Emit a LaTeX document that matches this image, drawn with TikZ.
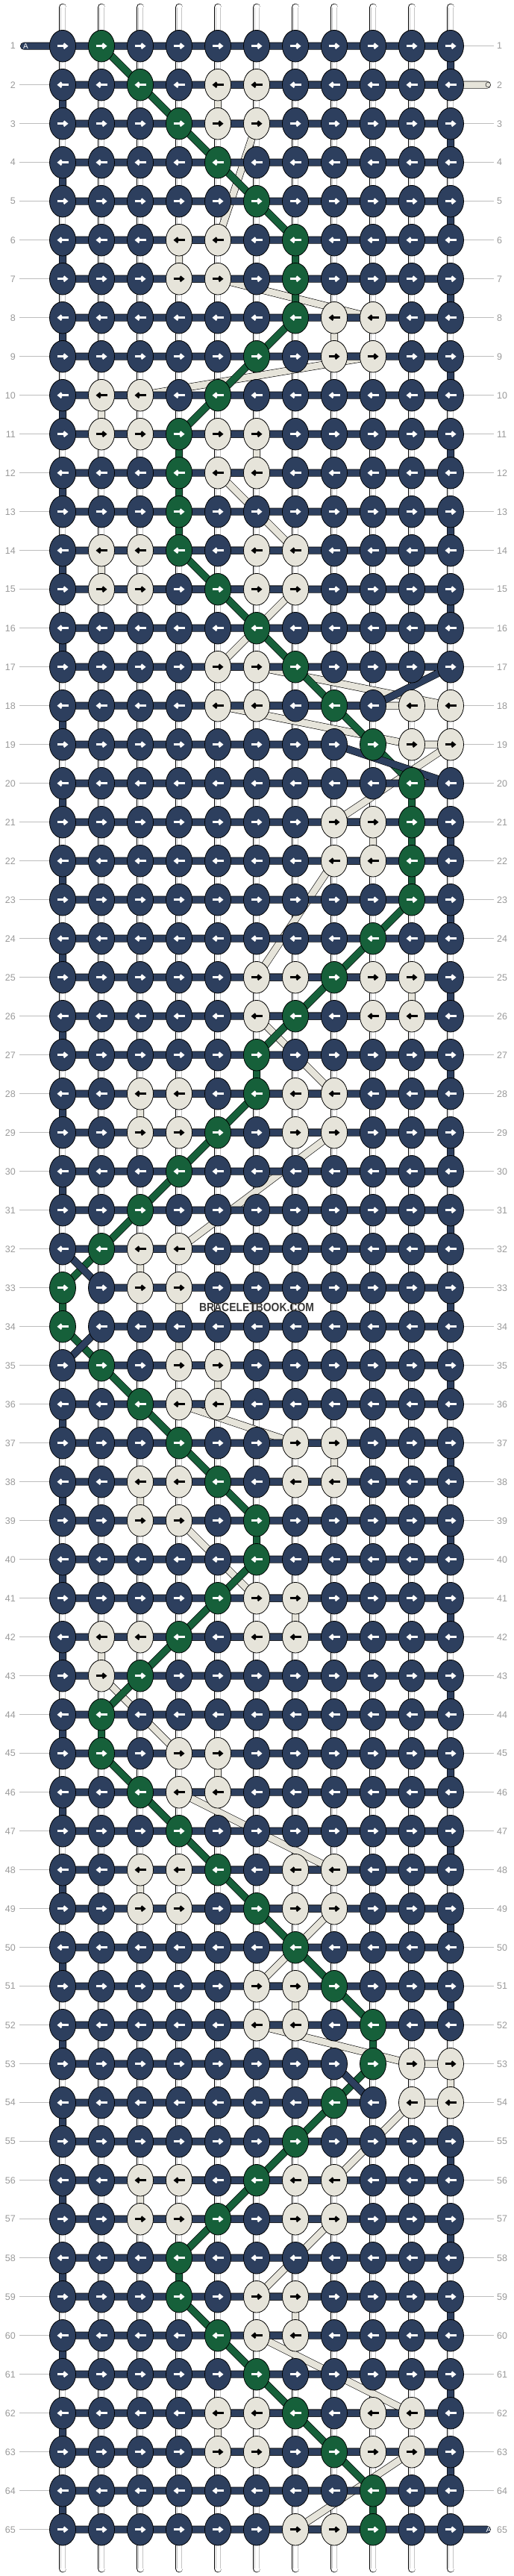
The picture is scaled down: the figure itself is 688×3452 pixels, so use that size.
\documentclass[tikz,border=0pt]{standalone}
\usepackage{fontspec}
\setmainfont{Liberation Sans}
\usetikzlibrary{arrows.meta,shapes.geometric}
\definecolor{navy}{HTML}{2D3F5E}
\definecolor{grn}{HTML}{16603A}
\definecolor{crm}{HTML}{E6E4DA}
\definecolor{lbl}{HTML}{999999}
\definecolor{guideC}{HTML}{BDBDBD}
\definecolor{wmC}{HTML}{383838}
\definecolor{innerC}{HTML}{C4C4C4}
\newcount\rcount \newcount\pcount
\def\storechar#1{\global\advance\pcount by 1 \expandafter\xdef\csname kc\the\rcount-\the\pcount\endcsname{#1}}
\def\parsechars#1{\ifx\relax#1\else\storechar{#1}\expandafter\parsechars\fi}
\def\prow#1{\global\advance\rcount by 1 \global\pcount=0 \parsechars#1\relax}
\prow{NGNNNNNNNNN}
\prow{NNGNCCNNNNN}
\prow{NNNGCCNNNNN}
\prow{NNNNGNNNNNN}
\prow{NNNNNGNNNNN}
\prow{NNNCCNGNNNN}
\prow{NNNCCNGNNNN}
\prow{NNNNNNGCCNN}
\prow{NNNNNGNCCNN}
\prow{NCCNGNNNNNN}
\prow{NCCGCCNNNNN}
\prow{NNNGCCNNNNN}
\prow{NNNGNNNNNNN}
\prow{NCCGNCCNNNN}
\prow{NCCNGCCNNNN}
\prow{NNNNNGNNNNN}
\prow{NNNNCCGNNNN}
\prow{NNNNCCNGNCC}
\prow{NNNNNNNNGCC}
\prow{NNNNNNNNNGN}
\prow{NNNNNNNCCGN}
\prow{NNNNNNNCCGN}
\prow{NNNNNNNNNGN}
\prow{NNNNNNNNGNN}
\prow{NNNNNCCGCCN}
\prow{NNNNNCGNCCN}
\prow{NNNNNGNNNNN}
\prow{NNCCNGCCNNN}
\prow{NNCCGNCCNNN}
\prow{NNNGNNNNNNN}
\prow{NNGNNNNNNNN}
\prow{NGCCNNNNNNN}
\prow{GNCCNNNNNNN}
\prow{GNNNNNNNNNN}
\prow{NGNCCNNNNNN}
\prow{NNGCCNNNNNN}
\prow{NNNGNNCCNNN}
\prow{NNCCGNCCNNN}
\prow{NNCCNGNNNNN}
\prow{NNNNNGNNNNN}
\prow{NNNNGCCNNNN}
\prow{NCCGNCCNNNN}
\prow{NCGNNNNNNNN}
\prow{NGNNNNNNNNN}
\prow{NGNCCNNNNNN}
\prow{NNGCCNNNNNN}
\prow{NNNGNNNNNNN}
\prow{NNCCGNCCNNN}
\prow{NNCCNGCCNNN}
\prow{NNNNNNGNNNN}
\prow{NNNNNCCGNNN}
\prow{NNNNNCCNGNN}
\prow{NNNNNNNNGCC}
\prow{NNNNNNNGNCC}
\prow{NNNNNNGNNNN}
\prow{NNCCNGCCNNN}
\prow{NNCCGNCCNNN}
\prow{NNNGNNNNNNN}
\prow{NNNGNCCNNNN}
\prow{NNNNGCCNNNN}
\prow{NNNNNGNNNNN}
\prow{NNNNCCGNCCN}
\prow{NNNNCCNGCCN}
\prow{NNNNNNNNGNN}
\prow{NNNNNNCCGNN}
\def\NN{N}\def\GG{G}\def\CC{C}
\begin{document}
\begin{tikzpicture}[x=1pt,y=-1pt,
 knot/.style={ellipse,draw=black,line width=0.8pt,minimum width=35pt,minimum height=42.6pt,inner sep=0pt},
 arr/.style={line width=2.6pt,-{Straight Barb[length=4pt,width=6.5pt]}},
 rowlbl/.style={text=lbl,font=\fontsize{12.5}{14}\selectfont,inner sep=0pt},
 guide/.style={draw=guideC,line width=1pt},
 taillbl/.style={font=\fontsize{10}{11}\selectfont,inner sep=0pt},
 strout/.style={line width=10pt,black,line cap=round},
 wm/.style={text=wmC,font=\fontsize{16}{18}\selectfont\bfseries,inner sep=0pt,xscale=0.87}]
\useasboundingbox (0,0) rectangle (688,3452);
% knot positions
\foreach \r in {1,...,65}{
 \foreach \c in {1,...,11}{
  \coordinate (p\r-\c) at ({84+52*(\c-1)},{61.7+52*(\r-1)});
 }
}
\coordinate (tailA) at (32,61.7);
\coordinate (tailC) at (653,113.7);
\coordinate (tailZ) at (653,3389.7);
% vertical base strings
\foreach \c in {1,...,11}{
 \coordinate (st\c) at ({84+52*(\c-1)},10);
 \coordinate (sb\c) at ({84+52*(\c-1)},3442);
 \draw[line width=10.6pt,line cap=round,black] (st\c) -- (sb\c);
 \draw[line width=9pt,line cap=round,white] (st\c) -- (sb\c);
 \draw[line width=0.5pt,innerC] ([xshift=-2.8pt]st\c) -- ([xshift=-2.8pt]sb\c);
 \draw[line width=0.5pt,innerC] ([xshift=2.8pt]st\c) -- ([xshift=2.8pt]sb\c);
}
% working string paths (collected in tying order)
\gdef\lastN{tailA}\gdef\lastC{tailC}\gdef\lastG{}
\gdef\pathN{}\gdef\pathG{}\gdef\pathC{}
\foreach \r in {1,...,65}{
 \foreach \i in {1,...,11}{
  \ifodd\r\relax \edef\c{\i}\else \pgfmathtruncatemacro\c{12-\i}\fi
  \edef\col{\csname kc\r-\c\endcsname}
  \ifx\col\NN \xdef\pathN{\pathN (\lastN) -- (p\r-\c)}\xdef\lastN{p\r-\c}\fi
  \ifx\col\GG \ifx\lastG\empty\else\xdef\pathG{\pathG (\lastG) -- (p\r-\c)}\fi\xdef\lastG{p\r-\c}\fi
  \ifx\col\CC \xdef\pathC{\pathC (\lastC) -- (p\r-\c)}\xdef\lastC{p\r-\c}\fi
 }
}
\xdef\pathN{\pathN (\lastN) -- (tailZ)}
\edef\tmp{\noexpand\draw[strout] \pathC; \noexpand\draw[line width=8.8pt,crm,line cap=round] \pathC;}\tmp
\edef\tmp{\noexpand\draw[strout] \pathG; \noexpand\draw[line width=8.8pt,grn,line cap=round] \pathG;}\tmp
\edef\tmp{\noexpand\draw[strout] \pathN; \noexpand\draw[line width=8.8pt,navy,line cap=round] \pathN;}\tmp
% knots
\foreach \r in {1,...,65}{
 \foreach \c in {1,...,11}{
  \edef\col{\csname kc\r-\c\endcsname}
  \ifx\col\NN\def\kf{navy}\def\af{white}\fi
  \ifx\col\GG\def\kf{grn}\def\af{white}\fi
  \ifx\col\CC\def\kf{crm}\def\af{black}\fi
  \node[knot,fill=\kf] (k\r-\c) at (p\r-\c) {};
  \ifodd\r\relax
   \draw[arr,draw=\af] ([xshift=-7.5pt]k\r-\c.center) -- ([xshift=7.5pt]k\r-\c.center);
  \else
   \draw[arr,draw=\af] ([xshift=7.5pt]k\r-\c.center) -- ([xshift=-7.5pt]k\r-\c.center);
  \fi
 }
}
% row labels
\foreach \r in {1,...,65}{
 \node[rowlbl,anchor=east] (lL\r) at (21,{61.7+52*(\r-1)}) {\r};
 \node[rowlbl,anchor=west] (lR\r) at (666,{61.7+52*(\r-1)}) {\r};
 \ifnum\r>1 \draw[guide] ([xshift=5pt]lL\r.east) -- (k\r-1.west);\fi
 \ifnum\r=2 \else\ifnum\r=65 \else\draw[guide] (k\r-11.east) -- ([xshift=-4.5pt]lR\r.west);\fi\fi
}
\node[taillbl,text=white] (tA) at (34.5,61.7) {A};
\node[taillbl,text=black!70] (tC) at (654,113.7) {C};
\node[taillbl,text=white] (tZ) at (655,3389.7) {A};
\node[wm] (wm) at (344,1751.7) {BRACELETBOOK.COM};
\end{tikzpicture}
\end{document}
